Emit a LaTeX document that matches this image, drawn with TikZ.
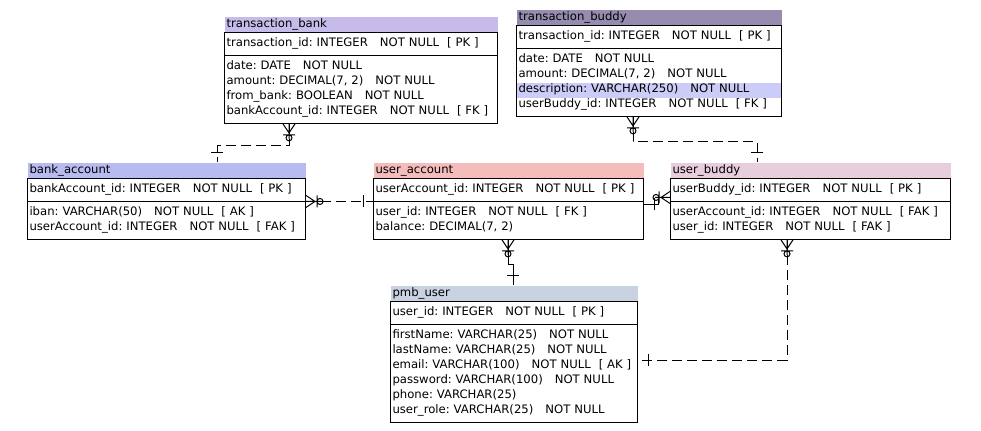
\documentclass[tikz,border=0pt]{standalone}
\usepackage{fontspec}
\usepackage{xcolor}
\usepackage{tikz}
\usetikzlibrary{shapes.multipart,positioning,calc,backgrounds}

\newfontfamily\erfont{DejaVu Sans}
\newcommand{\tblfont}{\erfont\fontsize{8.75}{11.25}\selectfont\frenchspacing}
\newcommand{\fsep}{\nobreak\hspace{9pt}}
\newcommand{\ksep}{\nobreak\hspace{6pt}}

\definecolor{headtbank}{RGB}{199,187,234}
\definecolor{headtbuddy}{RGB}{149,140,176}
\definecolor{headbank}{RGB}{183,187,240}
\definecolor{headuacc}{RGB}{245,188,188}
\definecolor{headubuddy}{RGB}{232,205,221}
\definecolor{headpmb}{RGB}{200,210,224}
\definecolor{hlrow}{RGB}{204,204,248}

\tikzset{
    tblhead/.style={fill=#1, anchor=north west, inner xsep=1.5pt, inner ysep=0pt, align=left, font=\tblfont},
    tblbody/.style={rectangle split, rectangle split parts=2, draw, anchor=north west,
        inner xsep=1.5pt, inner ysep=2.6pt, align=left, font=\tblfont},
    reldash/.style={dash pattern=on 7.5pt off 3.75pt},
    zmany/.pic={\draw[solid] (0,6) -- (9,0) -- (0,-6) (0,0) -- (15,0) (11,-6) -- (11,6)
        (14,0) circle[radius=2.25pt];},
    onebar/.pic={\draw[solid] (10,-6) -- (10,6);}
}

\begin{document}
\begin{tikzpicture}[x=0.75pt, y=0.75pt, line width=0.75pt]
    \useasboundingbox (0,0) rectangle (981,-430);

    % tables
    \node[tblhead=headtbank, text width=201.75pt] (tbankh) at (224,-16) {\strut transaction\_bank};
    \node[tblbody, text width=201.75pt] (tbankb) at (tbankh.south west)
        {\strut transaction\_id: INTEGER\fsep NOT NULL\ksep[ PK ]
        \nodepart{two}\strut date: DATE\fsep NOT NULL\\
        \strut amount: DECIMAL(7, 2)\fsep NOT NULL\\
        \strut from\_bank: BOOLEAN\fsep NOT NULL\\
        \strut bankAccount\_id: INTEGER\fsep NOT NULL\ksep[ FK ]};

    \node[tblhead=headtbuddy, text width=195.75pt] (tbuddyh) at (516,-9) {\strut transaction\_buddy};
    \node[tblbody, text width=195.75pt] (tbuddyb) at (tbuddyh.south west)
        {\strut transaction\_id: INTEGER\fsep NOT NULL\ksep[ PK ]
        \nodepart{two}\strut date: DATE\fsep NOT NULL\\
        \strut amount: DECIMAL(7, 2)\fsep NOT NULL\\
        \strut description: VARCHAR(250)\fsep NOT NULL\\
        \strut userBuddy\_id: INTEGER\fsep NOT NULL\ksep[ FK ]};

    \node[tblhead=headbank, text width=205.5pt] (bankh) at (27,-162) {\strut bank\_account};
    \node[tblbody, text width=205.5pt] (bankb) at (bankh.south west)
        {\strut bankAccount\_id: INTEGER\fsep NOT NULL\ksep[ PK ]
        \nodepart{two}\strut iban: VARCHAR(50)\fsep NOT NULL\ksep[ AK ]\\
        \strut userAccount\_id: INTEGER\fsep NOT NULL\ksep[ FAK ]};

    \node[tblhead=headuacc, text width=199.5pt] (uah) at (373,-162) {\strut user\_account};
    \node[tblbody, text width=199.5pt] (uab) at (uah.south west)
        {\strut userAccount\_id: INTEGER\fsep NOT NULL\ksep[ PK ]
        \nodepart{two}\strut user\_id: INTEGER\fsep NOT NULL\ksep[ FK ]\\
        \strut balance: DECIMAL(7, 2)};

    \node[tblhead=headubuddy, text width=207pt] (ubh) at (670,-162) {\strut user\_buddy};
    \node[tblbody, text width=207pt] (ubb) at (ubh.south west)
        {\strut userBuddy\_id: INTEGER\fsep NOT NULL\ksep[ PK ]
        \nodepart{two}\strut userAccount\_id: INTEGER\fsep NOT NULL\ksep[ FAK ]\\
        \strut user\_id: INTEGER\fsep NOT NULL\ksep[ FAK ]};

    \node[tblhead=headpmb, text width=182.25pt] (pmbh) at (390,-285) {\strut pmb\_user};
    \node[tblbody, text width=182.25pt] (pmbb) at (pmbh.south west)
        {\strut user\_id: INTEGER\fsep NOT NULL\ksep[ PK ]
        \nodepart{two}\strut firstName: VARCHAR(25)\fsep NOT NULL\\
        \strut lastName: VARCHAR(25)\fsep NOT NULL\\
        \strut email: VARCHAR(100)\fsep NOT NULL\ksep[~AK~]\\
        \strut password: VARCHAR(100)\fsep NOT NULL\\
        \strut phone: VARCHAR(25)\\
        \strut user\_role: VARCHAR(25)\fsep NOT NULL};

    % highlighted row
    \begin{scope}[on background layer]
        \fill[hlrow] ($(tbuddyb.south west)+(0.5,18.5)$) rectangle ($(tbuddyb.south east)+(-0.5,33.5)$);
    \end{scope}

    % relations
    \coordinate (r1a) at ($(tbankb.south west)+(65,0)$);
    \coordinate (r1b) at ($(bankh.north west)+(190,0)$);
    \draw[reldash] (r1a) -- ++(0,-22) -| (r1b);
    \pic[rotate=-90] at (r1a) {zmany};
    \pic[rotate=90] at (r1b) {onebar};

    \draw[reldash] (bankb.text split east) -- (uab.text split west);
    \pic at (bankb.text split east) {zmany};
    \pic[rotate=180] at (uab.text split west) {onebar};

    \coordinate (r3a) at ($(tbuddyb.south west)+(117,0)$);
    \coordinate (r3b) at ($(ubh.north west)+(87,0)$);
    \draw[reldash] (r3a) -- ++(0,-25) -| (r3b);
    \pic[rotate=-90] at (r3a) {zmany};
    \pic[rotate=90] at (r3b) {onebar};

    \coordinate (r4a) at ($(uab.text split east)+(0,-3)$);
    \coordinate (r4b) at ($(ubb.text split west)+(0,4)$);
    \draw (r4a) -- ++(14,0) |- (r4b);
    \pic at (r4a) {onebar};
    \pic[rotate=180] at (r4b) {zmany};

    \coordinate (r5a) at ($(uab.south west)+(135,0)$);
    \coordinate (r5b) at ($(pmbh.north west)+(123,0)$);
    \draw (r5a) -- ++(0,-25) -| (r5b);
    \pic[rotate=-90] at (r5a) {zmany};
    \pic[rotate=90] at (r5b) {onebar};

    \coordinate (r6a) at ($(ubb.south west)+(117,0)$);
    \coordinate (r6b) at ($(pmbb.north east)+(0,-59)$);
    \draw[reldash] (r6a) |- (r6b);
    \pic[rotate=-90] at (r6a) {zmany};
    \pic at (r6b) {onebar};
\end{tikzpicture}
\end{document}
